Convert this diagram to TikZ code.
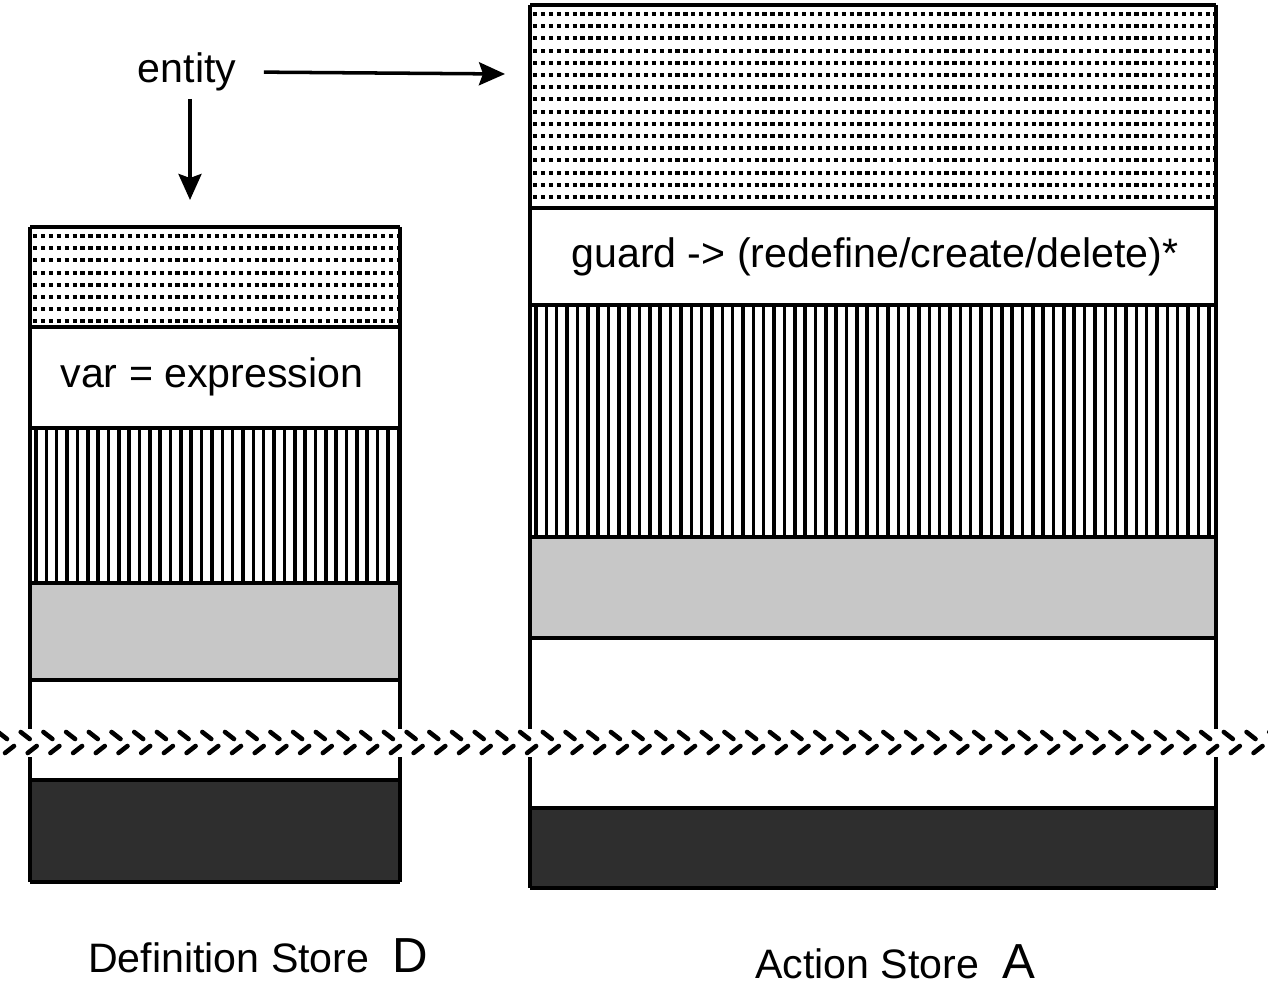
\documentclass[tikz,border=0pt]{standalone}
\usepackage{fontspec}
\setmainfont{Liberation Sans}
\usetikzlibrary{arrows.meta}

\begin{document}
\begin{tikzpicture}[x=0.01cm,y=-0.01cm,>={Stealth[length=2.6mm,width=2.3mm,inset=0.4mm]},
  txt/.style={font=\fontsize{11.7}{14}\selectfont,inner sep=2pt},
  frame/.style={line width=1.1pt},
  stripe/.style={line width=1pt},
  dotrow/.style={line width=1.15pt,dash pattern=on 1.2pt off 1.05pt},
  brk/.style={line width=1.3pt,line cap=round}]

\useasboundingbox (0,0) rectangle (1268,986);

% the two stores: left, right, top, then the band borders, bottom
\foreach \l/\r/\t/\a/\b/\c/\d/\e/\f in {30/400/227/327/428/583/680/780/882,
                                        530/1216/5/208/305/537/638/808/888}{
  \fill[black!22] (\l,\c) rectangle (\r,\d);
  \fill[black!82] (\l,\e) rectangle (\r,\f);
  \begin{scope}
    \clip (\l,\t) rectangle (\r,\a);
    \foreach \y in {9,21.2,...,200}
      \draw[dotrow] (\l+3,\t+\y) -- (\r,\t+\y);
  \end{scope}
  \begin{scope}
    \clip (\l,\b) rectangle (\r,\c);
    \foreach \x in {6,16.35,...,700}
      \draw[stripe] (\l+\x,\b) -- (\l+\x,\c);
  \end{scope}
  \foreach \y in {\t,\a,\b,\c,\d,\e,\f}
    \draw[frame] (\l,\y) -- (\r,\y);
  \draw[frame] (\l,\t) -- (\l,729) (\l,757) -- (\l,\f);
  \draw[frame] (\r,\t) -- (\r,729) (\r,757) -- (\r,\f);
}

% break line across both stores
\foreach \x in {-2,20.7,...,1270}{
  \draw[brk] (\x,732) -- ++(9,7);
  \draw[brk] (\x+7,753) -- ++(9,-7);
}

\node[txt] (defn) at (212,377) {var = expression};
\node[txt] (act) at (875,257) {guard -> (redefine/create/delete)*};

\node[txt] (entity) at (187,72) {entity};
\coordinate (d-in) at (190,200);
\coordinate (a-in) at (505,74);
\draw[->,line width=1pt,shorten <=2mm] (entity.east) -- (a-in);
\draw[->,line width=1pt] (entity.south -| d-in) -- (d-in);

\node[txt] (dlabel) at (258,956) {Definition Store\ \ \fontsize{14}{14}\selectfont D};
\node[txt] (alabel) at (895,962) {Action Store\ \ \fontsize{14}{14}\selectfont A};

\end{tikzpicture}
\end{document}
